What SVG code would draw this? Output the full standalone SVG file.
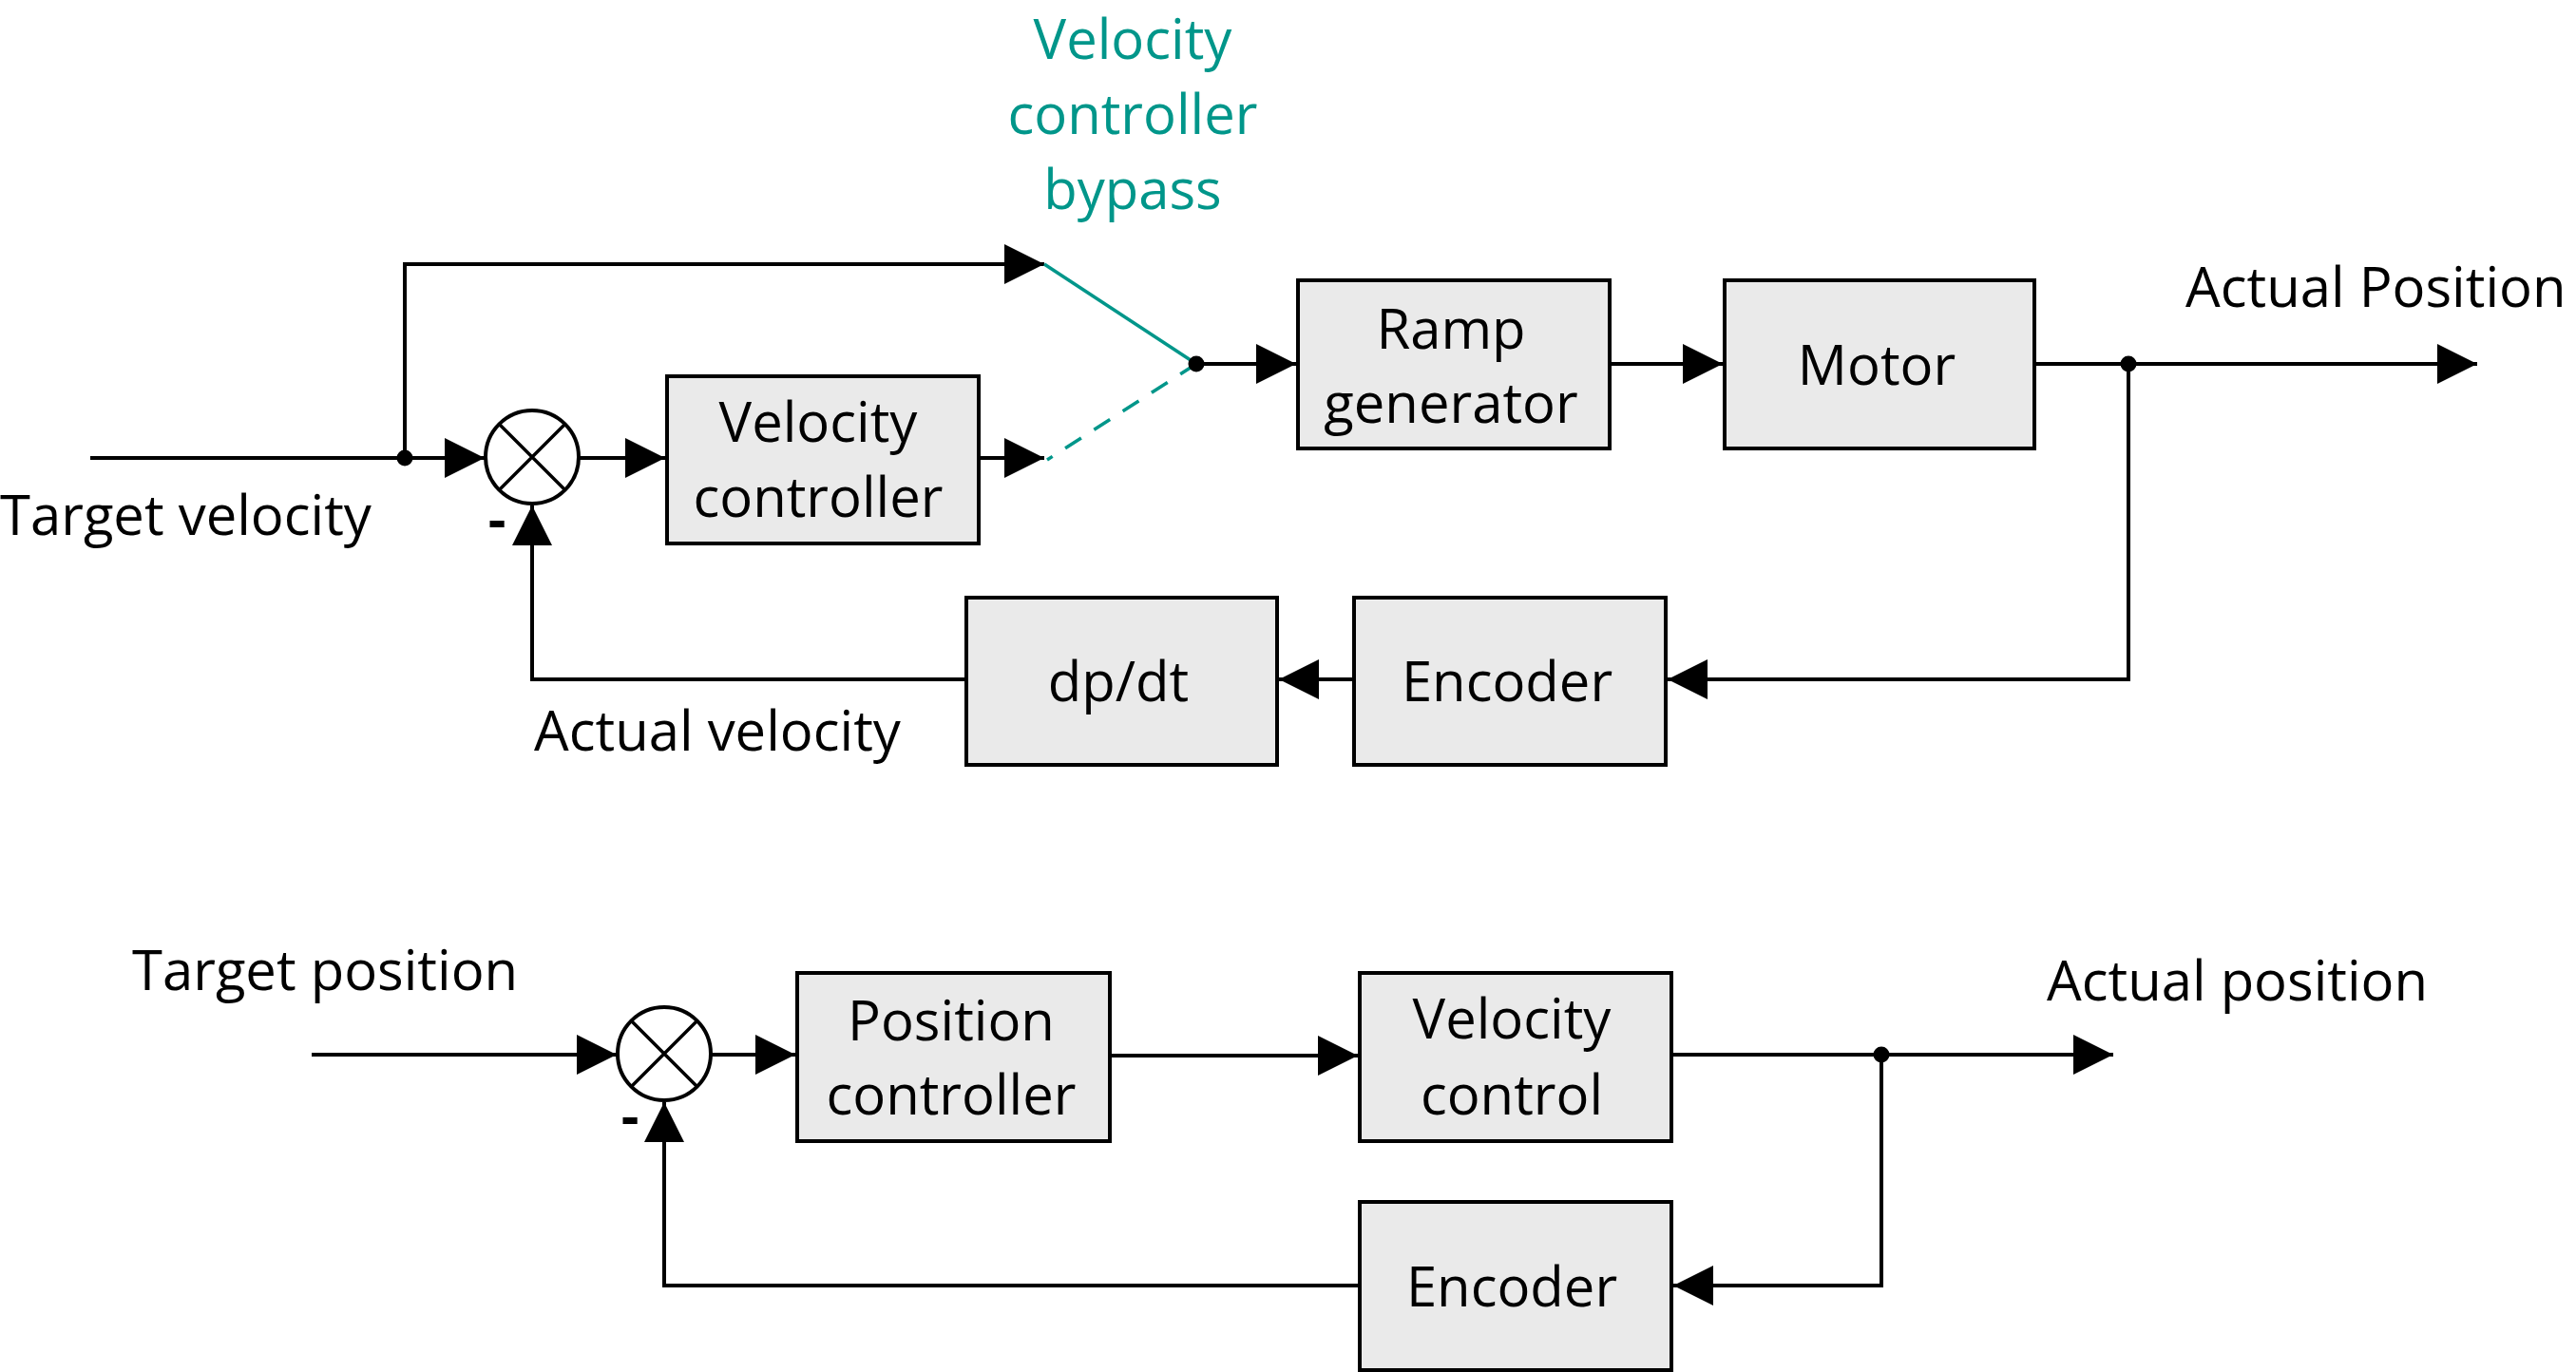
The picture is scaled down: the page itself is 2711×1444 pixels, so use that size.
<svg xmlns="http://www.w3.org/2000/svg" width="2711" height="1444" viewBox="0 0 2711 1444">
<style>
text{font-family:"Open Sans","Noto Sans","DejaVu Sans",sans-serif;font-size:58px;fill:#000}
.c{text-anchor:middle}
.teal{fill:#00968A}
.box{fill:#EAEAEA;stroke:#000;stroke-width:4}
.sum{fill:#fff;stroke:#000;stroke-width:4}
.x{stroke:#000;stroke-width:3.5}
.w{fill:none;stroke:#000;stroke-width:4}
.tw{fill:none;stroke:#00968A;stroke-width:3.5}
.minus{font-weight:bold}
</style>
<defs>
<marker id="ah" markerUnits="userSpaceOnUse" markerWidth="42" markerHeight="42" viewBox="0 0 42 42" refX="42" refY="21" orient="auto">
<path d="M0,0 L42,21 L0,42 Z" fill="#000"/>
</marker>
</defs>

<g id="connectors">
<path class="w" d="M95,482 H510" marker-end="url(#ah)"/>
<path class="w" d="M426,482 V278 H1099" marker-end="url(#ah)"/>
<path class="w" d="M610,482 H700" marker-end="url(#ah)"/>
<path class="w" d="M1031,482 H1099" marker-end="url(#ah)"/>
<path class="tw" d="M1099,278 L1259,383"/>
<path class="tw" d="M1259,383 L1102,484" stroke-dasharray="20 16"/>
<path class="w" d="M1259,383 H1364" marker-end="url(#ah)"/>
<path class="w" d="M1696,383 H1813" marker-end="url(#ah)"/>
<path class="w" d="M2143,383 H2607" marker-end="url(#ah)"/>
<path class="w" d="M2240,383 V715 H1755" marker-end="url(#ah)"/>
<path class="w" d="M1423,715 H1346" marker-end="url(#ah)"/>
<path class="w" d="M1015,715 H560 V532" marker-end="url(#ah)"/>
<circle cx="426" cy="482" r="8.5" fill="#000"/>
<circle cx="1259" cy="383" r="8.5" fill="#000"/>
<circle cx="2240" cy="383" r="8.5" fill="#000"/>

<path class="w" d="M328,1110 H649" marker-end="url(#ah)"/>
<path class="w" d="M749,1110 H837" marker-end="url(#ah)"/>
<path class="w" d="M1170,1111 H1429" marker-end="url(#ah)"/>
<path class="w" d="M1760,1110 H2224" marker-end="url(#ah)"/>
<path class="w" d="M1980,1110 V1353 H1761" marker-end="url(#ah)"/>
<path class="w" d="M1429,1353 H699 V1160" marker-end="url(#ah)"/>
<circle cx="1980" cy="1110" r="8.5" fill="#000"/>
</g>

<g id="sum1">
<circle class="sum" cx="560" cy="481" r="49"/>
<path class="x" d="M526,447 L594,515 M594,447 L526,515"/>
<text class="c minus" x="523" y="567">-</text>
</g>
<g id="velocity-controller">
<rect class="box" x="702" y="396" width="328" height="176"/>
<text class="c" x="861" y="465">Velocity</text>
<text class="c" x="861" y="544">controller</text>
</g>
<g id="ramp-generator">
<rect class="box" x="1366" y="295" width="328" height="177"/>
<text class="c" x="1527" y="367">Ramp</text>
<text class="c" x="1527" y="445">generator</text>
</g>
<g id="motor">
<rect class="box" x="1815" y="295" width="326" height="177"/>
<text class="c" x="1975" y="405">Motor</text>
</g>
<g id="dpdt">
<rect class="box" x="1017" y="629" width="327" height="176"/>
<text class="c" x="1177" y="738">dp/dt</text>
</g>
<g id="encoder1">
<rect class="box" x="1425" y="629" width="328" height="176"/>
<text class="c" x="1586" y="738">Encoder</text>
</g>
<g id="bypass-label">
<text class="c teal" x="1192" y="62">Velocity</text>
<text class="c teal" x="1192" y="141">controller</text>
<text class="c teal" x="1192" y="220">bypass</text>
</g>
<g id="labels-top">
<text x="0" y="563">Target velocity</text>
<text x="2300" y="323">Actual Position</text>
<text x="562" y="790">Actual velocity</text>
</g>

<g id="sum2">
<circle class="sum" cx="699" cy="1109" r="49"/>
<path class="x" d="M665,1075 L733,1143 M733,1075 L665,1143"/>
<text class="c minus" x="663" y="1195">-</text>
</g>
<g id="position-controller">
<rect class="box" x="839" y="1024" width="329" height="177"/>
<text class="c" x="1001" y="1095">Position</text>
<text class="c" x="1001" y="1173">controller</text>
</g>
<g id="velocity-control">
<rect class="box" x="1431" y="1024" width="328" height="177"/>
<text class="c" x="1591" y="1093">Velocity</text>
<text class="c" x="1591" y="1173">control</text>
</g>
<g id="encoder2">
<rect class="box" x="1431" y="1265" width="328" height="177"/>
<text class="c" x="1591" y="1375">Encoder</text>
</g>
<g id="labels-bottom">
<text x="139" y="1042">Target position</text>
<text x="2154" y="1053">Actual position</text>
</g>
</svg>
